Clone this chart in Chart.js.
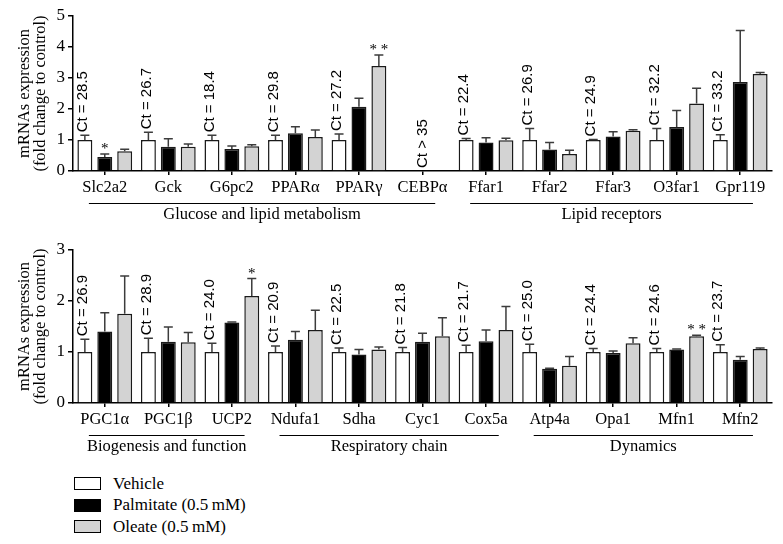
<!DOCTYPE html>
<html>
<head>
<meta charset="utf-8">
<script src="https://cdn.jsdelivr.net/npm/chart.js@4.4.1/dist/chart.umd.min.js"></script>
<style>
  body { margin: 0; background: #fff; }
  #wrap { position: relative; width: 783px; height: 544px; }
  canvas { position: absolute; left: 0; }
  #legend { position: absolute; left: 74px; top: 473px; font: 17px 'Liberation Serif', serif; color: #000; }
  .row { display: flex; align-items: center; height: 21.5px; }
  .box { width: 25px; height: 11px; border: 1px solid #000; margin-right: 12px; }
</style>
</head>
<body>
<div id="wrap">
  <canvas id="top" width="783" height="230" style="top:0"></canvas>
  <canvas id="bottom" width="783" height="240" style="top:230px"></canvas>
  <div id="legend"></div>
</div>
<script>
const seriesNames = ['Vehicle', 'Palmitate (0.5\u2009mM)', 'Oleate (0.5\u2009mM)']
const seriesColors = ['#ffffff', '#000000', '#d3d3d3']

// top panel
const topCategories = ['Slc2a2', 'Gck', 'G6pc2', 'PPAR\u03b1', 'PPAR\u03b3', 'CEBP\u03b1', 'Ffar1', 'Ffar2', 'Ffar3', 'O3far1', 'Gpr119']
const topVehicle = [1, 1, 1, 1, 1, null, 1, 1, 1, 1, 1]
const topVehicleErr = [0.15, 0.25, 0.15, 0.15, 0.19, null, 0.05, 0.37, 0.02, 0.37, 0.17]
const topPalmitate = [0.45, 0.78, 0.71, 1.22, 2.07, null, 0.92, 0.69, 1.11, 1.42, 2.87]
const topPalmitateErr = [0.1, 0.26, 0.1, 0.21, 0.28, null, 0.15, 0.23, 0.16, 0.53, 1.66]
const topOleate = [0.64, 0.78, 0.8, 1.1, 3.39, null, 0.99, 0.55, 1.3, 2.18, 3.13]
const topOleateErr = [0.06, 0.09, 0.05, 0.22, 0.35, null, 0.07, 0.12, 0.03, 0.49, 0.05]
const topPalmitateSig = ['*', '', '', '', '', '', '', '', '', '', '']
const topOleateSig = ['', '', '', '', '* *', '', '', '', '', '', '']
const topCt = ['Ct = 28.5', 'Ct = 26.7', 'Ct = 18.4', 'Ct = 29.8', 'Ct = 27.2', 'Ct > 35', 'Ct = 22.4', 'Ct = 26.9', 'Ct = 24.9', 'Ct = 32.2', 'Ct = 33.2']
const topGroupLabels = ['Glucose and lipid metabolism', 'Lipid receptors']
const topGroupFrom = [0, 6]
const topGroupTo = [5, 10]

// bottom panel
const bottomCategories = ['PGC1\u03b1', 'PGC1\u03b2', 'UCP2', 'Ndufa1', 'Sdha', 'Cyc1', 'Cox5a', 'Atp4a', 'Opa1', 'Mfn1', 'Mfn2']
const bottomVehicle = [1, 1, 1, 1, 1, 1, 1, 1, 1, 1, 1]
const bottomVehicleErr = [0.25, 0.27, 0.17, 0.12, 0.08, 0.09, 0.13, 0.15, 0.07, 0.07, 0.14]
const bottomPalmitate = [1.4, 1.2, 1.58, 1.24, 0.95, 1.2, 1.21, 0.67, 0.98, 1.05, 0.85]
const bottomPalmitateErr = [0.37, 0.29, 0.01, 0.16, 0.1, 0.17, 0.22, 0.01, 0.04, 0.01, 0.06]
const bottomOleate = [1.75, 1.19, 2.1, 1.43, 1.05, 1.31, 1.43, 0.73, 1.17, 1.31, 1.06]
const bottomOleateErr = [0.74, 0.19, 0.34, 0.39, 0.05, 0.36, 0.46, 0.18, 0.11, 0.02, 0.02]
const bottomPalmitateSig = ['', '', '', '', '', '', '', '', '', '', '']
const bottomOleateSig = ['', '', '*', '', '', '', '', '', '', '* *', '']
const bottomCt = ['Ct = 26.9', 'Ct = 28.9', 'Ct = 24.0', 'Ct = 20.9', 'Ct = 22.5', 'Ct = 21.8', 'Ct = 21.7', 'Ct = 25.0', 'Ct = 24.4', 'Ct = 24.6', 'Ct = 23.7']
const bottomGroupLabels = ['Biogenesis and function', 'Respiratory chain', 'Dynamics']
const bottomGroupFrom = [0, 3, 7]
const bottomGroupTo = [2, 6, 10]

const serif = "'Liberation Serif', 'Times New Roman', serif"
const sans = "'Liberation Sans', Arial, sans-serif"

// error bars, significance stars, Ct notes, group lines and the y title
const annotations = {
  id: 'annotations',
  afterDatasetsDraw(chart) {
    const ctx = chart.ctx
    const x = chart.scales.x
    const y = chart.scales.y
    const extra = chart.config.options.extra
    ctx.save()
    chart.data.datasets.forEach((ds, i) => {
      chart.getDatasetMeta(i).data.forEach((bar, j) => {
        const v = ds.data[j]
        if (v == null) return
        const top = y.getPixelForValue(v + (ds.errors[j] || 0))
        if (ds.errors[j]) {
          ctx.strokeStyle = '#3c3c3c'
          ctx.lineWidth = 1.5
          ctx.beginPath()
          ctx.moveTo(bar.x, bar.y)
          ctx.lineTo(bar.x, top)
          ctx.moveTo(bar.x - 4.5, top)
          ctx.lineTo(bar.x + 4.5, top)
          ctx.stroke()
        }
        if (ds.sig[j]) {
          ctx.fillStyle = '#000'
          ctx.font = '15px ' + serif
          ctx.textAlign = 'center'
          ctx.textBaseline = 'alphabetic'
          ctx.fillText(ds.sig[j], bar.x, top - 1)
        }
      })
    })

    // Ct values, rotated, just above the vehicle bar
    const vehicle = chart.data.datasets[0]
    const vMeta = chart.getDatasetMeta(0)
    ctx.font = '15px ' + sans
    ctx.fillStyle = '#000'
    extra.ct.forEach((txt, j) => {
      let px, py
      if (vehicle.data[j] == null) {
        px = x.getPixelForValue(j)
        py = y.getPixelForValue(0) - 3
      } else {
        px = vMeta.data[j].x - 2
        py = y.getPixelForValue(vehicle.data[j] + vehicle.errors[j]) - 3
      }
      ctx.save()
      ctx.translate(px, py)
      ctx.rotate(-Math.PI / 2)
      ctx.textAlign = 'left'
      ctx.textBaseline = 'middle'
      ctx.fillText(txt, 0, 0)
      ctx.restore()
    })

    // group lines and labels under the axis
    const axisY = chart.chartArea.bottom
    const step = x.getPixelForValue(1) - x.getPixelForValue(0)
    ctx.font = '16.5px ' + serif
    ctx.textAlign = 'center'
    ctx.textBaseline = 'middle'
    extra.groupLabels.forEach((label, g) => {
      const x0 = x.getPixelForValue(extra.groupFrom[g]) - step * 0.25
      const x1 = x.getPixelForValue(extra.groupTo[g]) + step * 0.2
      ctx.strokeStyle = '#000'
      ctx.lineWidth = 1.2
      ctx.beginPath()
      ctx.moveTo(x0, axisY + 32.5)
      ctx.lineTo(x1, axisY + 32.5)
      ctx.stroke()
      ctx.fillText(label, (x0 + x1) / 2, axisY + 44)
    })

    // two line y title
    const midY = (chart.chartArea.top + chart.chartArea.bottom) / 2
    ctx.font = '16.5px ' + serif
    ctx.translate(0, midY)
    ctx.rotate(-Math.PI / 2)
    ctx.fillText('mRNAs expression', 0, 25)
    ctx.fillText('(fold change to control)', 0, 41)
    ctx.restore()
  }
}

function makePanel(canvasId, opts) {
  const datasets = [0, 1, 2].map((k) => ({
    label: seriesNames[k],
    data: opts.values[k],
    errors: opts.errors[k],
    sig: opts.sig[k],
    backgroundColor: seriesColors[k],
    borderColor: '#1a1a1a',
    borderWidth: 1.5,
    categoryPercentage: 0.94,
    barPercentage: 0.75
  }))
  return new Chart(document.getElementById(canvasId).getContext('2d'), {
    type: 'bar',
    data: { labels: opts.categories, datasets: datasets },
    plugins: [annotations],
    options: {
      responsive: false,
      animation: false,
      extra: { ct: opts.ct, groupLabels: opts.groupLabels, groupFrom: opts.groupFrom, groupTo: opts.groupTo },
      layout: { padding: { top: opts.padTop, right: 11, left: 0, bottom: 0 } },
      plugins: { legend: { display: false }, tooltip: { enabled: false } },
      scales: {
        x: {
          grid: { drawOnChartArea: false, offset: false, tickLength: 4, color: '#000', lineWidth: 1.5 },
          border: { color: '#000', width: 1.5 },
          ticks: { font: { family: serif, size: 16.5 }, color: '#000', padding: 3, autoSkip: false, maxRotation: 0, minRotation: 0 },
          afterFit: (s) => { s.height = opts.xHeight }
        },
        y: {
          min: 0,
          max: opts.yMax,
          grid: { drawOnChartArea: false, tickLength: 5, color: '#000', lineWidth: 1.5 },
          border: { color: '#000', width: 1.5 },
          ticks: { stepSize: 1, font: { family: serif, size: 17 }, color: '#000', padding: 3 },
          afterFit: (s) => { s.width = 73 }
        }
      }
    }
  })
}

makePanel('top', {
  categories: topCategories,
  values: [topVehicle, topPalmitate, topOleate],
  errors: [topVehicleErr, topPalmitateErr, topOleateErr],
  sig: [topVehicle.map(() => ''), topPalmitateSig, topOleateSig],
  ct: topCt,
  groupLabels: topGroupLabels, groupFrom: topGroupFrom, groupTo: topGroupTo,
  yMax: 5, padTop: 16, xHeight: 59
})

makePanel('bottom', {
  categories: bottomCategories,
  values: [bottomVehicle, bottomPalmitate, bottomOleate],
  errors: [bottomVehicleErr, bottomPalmitateErr, bottomOleateErr],
  sig: [bottomVehicle.map(() => ''), bottomPalmitateSig, bottomOleateSig],
  ct: bottomCt,
  groupLabels: bottomGroupLabels, groupFrom: bottomGroupFrom, groupTo: bottomGroupTo,
  yMax: 3, padTop: 20, xHeight: 67
})

// legend, one row per series
const legend = document.getElementById('legend')
seriesNames.forEach((name, k) => {
  const row = document.createElement('div')
  row.className = 'row'
  const box = document.createElement('span')
  box.className = 'box'
  box.style.background = seriesColors[k]
  row.appendChild(box)
  row.appendChild(document.createTextNode(name))
  legend.appendChild(row)
})
</script>
</body>
</html>
